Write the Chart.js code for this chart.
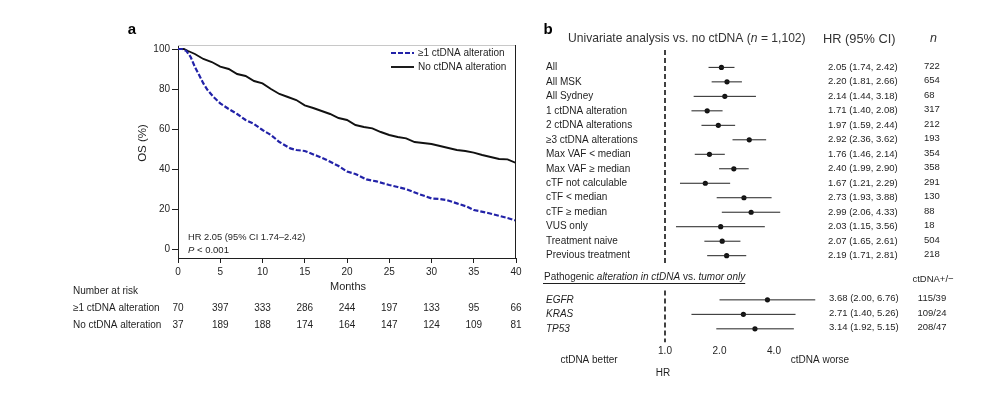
<!DOCTYPE html>
<html>
<head>
<meta charset="utf-8">
<script src="https://cdn.jsdelivr.net/npm/chart.js@4.4.1/dist/chart.umd.min.js"></script>
<style>
    html, body { margin: 0; padding: 0; background: #fff; }
    #wrap { position: relative; width: 1001px; height: 393px; }
    canvas { position: absolute; left: 0; top: 0; }
</style>
</head>
<body>
<div id="wrap">
    <canvas id="kmChart" width="1001" height="393"></canvas>
    <canvas id="forestChart" width="1001" height="393"></canvas>
</div>
<script>
// ---- Panel a: supervivencia global (Kaplan-Meier) ----
const kmMonthsAlt = [0, 0.5, 1.0, 1.5, 2.0, 2.5, 3.0, 3.5, 4.2, 5.0, 6.0, 7.0, 8.0, 9.0, 10.0, 11.0, 12.0, 13.3, 14.0, 15.0, 16.5, 17.6, 19.0, 20.0, 21.0, 22.3, 23.5, 25.0, 26.0, 27.1, 28.5, 30.0, 31.0, 31.8, 33.0, 34.2, 35.0, 36.5, 38.1, 39.0, 40.0];
const kmOsAlt = [100, 100, 99, 96, 91, 87, 82.8, 79.5, 76, 72.8, 70, 67.5, 64.5, 62.5, 59.5, 57, 53.5, 50.3, 49.5, 49, 46.5, 44.5, 41.5, 38.7, 37.5, 34.8, 33.8, 32, 31, 29.8, 27.5, 25.3, 25, 24.5, 22.8, 21.2, 19.5, 18.2, 16.5, 15.5, 14.2];
const kmMonthsNone = [0, 0.7, 1.2, 2.0, 3.0, 4.0, 5.0, 6.0, 7.0, 8.0, 9.0, 10.0, 11.0, 12.0, 13.0, 14.0, 15.0, 16.0, 17.0, 18.0, 19.0, 20.0, 21.0, 22.0, 23.0, 24.0, 25.0, 26.0, 27.0, 28.0, 29.0, 30.0, 31.0, 32.0, 33.0, 34.0, 35.0, 36.0, 37.0, 38.0, 39.0, 40.0];
const kmOsNone = [100, 100, 99, 97.5, 95, 93.5, 91.2, 90, 87.5, 86.5, 84, 82.8, 80, 77.5, 76, 74.5, 71.8, 70.5, 69, 67.5, 65.5, 64.5, 62, 61, 60.3, 58.5, 57, 56, 55.3, 53.5, 53, 52.5, 51.5, 50.5, 49.5, 49, 48.2, 47, 46, 45, 44.8, 43];
const riskMonths = [0, 5, 10, 15, 20, 25, 30, 35, 40];
const riskAlt = [70, 397, 333, 286, 244, 197, 133, 95, 66];
const riskNone = [37, 189, 188, 174, 164, 147, 124, 109, 81];
const osTicks = [0, 20, 40, 60, 80, 100];
const monthTicks = [0, 5, 10, 15, 20, 25, 30, 35, 40];

// ---- Panel b: forest plot ----
const forestLabels = ['All', 'All MSK', 'All Sydney', '1 ctDNA alteration', '2 ctDNA alterations', '≥3 ctDNA alterations', 'Max VAF < median', 'Max VAF ≥ median', 'cTF not calculable', 'cTF < median', 'cTF ≥ median', 'VUS only', 'Treatment naive', 'Previous treatment'];
const forestHr = [2.05, 2.20, 2.14, 1.71, 1.97, 2.92, 1.76, 2.40, 1.67, 2.73, 2.99, 2.03, 2.07, 2.19];
const forestLo = [1.74, 1.81, 1.44, 1.40, 1.59, 2.36, 1.46, 1.99, 1.21, 1.93, 2.06, 1.15, 1.65, 1.71];
const forestHi = [2.42, 2.66, 3.18, 2.08, 2.44, 3.62, 2.14, 2.90, 2.29, 3.88, 4.33, 3.56, 2.61, 2.81];
const forestN = [722, 654, 68, 317, 212, 193, 354, 358, 291, 130, 88, 18, 504, 218];
const geneLabels = ['EGFR', 'KRAS', 'TP53'];
const geneHr = [3.68, 2.71, 3.14];
const geneLo = [2.00, 1.40, 1.92];
const geneHi = [6.76, 5.26, 5.15];
const geneCounts = ['115/39', '109/24', '208/47'];
const hrTicks = [1, 2, 4];

const FONT = '"Liberation Sans", Arial, sans-serif';
const INK = '#1f1f1f';
const BLUE = '#2222a8';
Chart.defaults.font.family = FONT;
Chart.defaults.color = INK;

const toXY = (xs, ys) => xs.map((x, i) => ({ x, y: ys[i] }));

function drawText(ctx, text, x, y, opts = {}) {
    ctx.save();
    ctx.font = `${opts.style || ''} ${opts.weight || ''} ${opts.size || 10}px ${FONT}`;
    ctx.fillStyle = opts.color || INK;
    ctx.textAlign = opts.align || 'left';
    ctx.textBaseline = 'middle';
    ctx.fillText(text, x, y);
    const w = ctx.measureText(text).width;
    ctx.restore();
    return w;
}

// Texto con partes en cursiva: [[texto, italic?], ...]
function drawRich(ctx, parts, x, y, size, color) {
    let cx = x;
    parts.forEach(([t, it]) => {
        cx += drawText(ctx, t, cx, y, { size, color, style: it ? 'italic' : '' });
    });
    return cx - x;
}

const kmDecor = {
    id: 'kmDecor',
    afterDraw(chart) {
        const { ctx, chartArea: a, scales } = chart;
        // marco superior (gris) y derecho
        ctx.save();
        ctx.lineWidth = 1;
        ctx.strokeStyle = '#c8c8c8';
        ctx.beginPath(); ctx.moveTo(a.left, a.top + 0.5); ctx.lineTo(a.right, a.top + 0.5); ctx.stroke();
        ctx.strokeStyle = INK;
        ctx.beginPath(); ctx.moveTo(a.right - 0.5, a.top); ctx.lineTo(a.right - 0.5, a.bottom); ctx.stroke();

        // leyenda
        const ds = chart.data.datasets;
        [53, 67].forEach((ly, i) => {
            ctx.strokeStyle = ds[i].borderColor;
            ctx.lineWidth = ds[i].borderWidth;
            ctx.setLineDash(ds[i].borderDash || []);
            ctx.beginPath(); ctx.moveTo(391, ly); ctx.lineTo(414, ly); ctx.stroke();
            ctx.setLineDash([]);
            drawText(ctx, ds[i].label, 418, ly, { size: 10 });
        });
        ctx.restore();

        drawText(ctx, 'HR 2.05 (95% CI 1.74–2.42)', 188, 237, { size: 9.3 });
        const w = drawText(ctx, 'P', 188, 250, { size: 9.5, style: 'italic' });
        drawText(ctx, ' < 0.001', 188 + w, 250, { size: 9.5 });

        ctx.save();
        ctx.translate(143, 143);
        ctx.rotate(-Math.PI / 2);
        drawText(ctx, 'OS (%)', 0, 0, { size: 11.5, align: 'center' });
        ctx.restore();

        drawText(ctx, 'Months', 348, 287, { size: 11, align: 'center' });

        // tabla de pacientes en riesgo
        drawText(ctx, 'Number at risk', 73, 291, { size: 10 });
        drawText(ctx, ds[0].label, 73, 308, { size: 10 });
        drawText(ctx, ds[1].label, 73, 325, { size: 10 });
        riskMonths.forEach((m, i) => {
            const x = scales.x.getPixelForValue(m);
            drawText(ctx, String(riskAlt[i]), x, 308, { size: 10, align: 'center' });
            drawText(ctx, String(riskNone[i]), x, 325, { size: 10, align: 'center' });
        });

        drawText(ctx, 'a', 132, 30, { size: 15, weight: 'bold', align: 'center', color: '#000' });
    }
};

new Chart(document.getElementById('kmChart'), {
    type: 'line',
    data: {
        datasets: [
            {
                label: '≥1 ctDNA alteration',
                data: toXY(kmMonthsAlt, kmOsAlt),
                borderColor: BLUE,
                borderWidth: 2.2,
                borderDash: [5, 2],
                pointRadius: 0,
                fill: false
            },
            {
                label: 'No ctDNA alteration',
                data: toXY(kmMonthsNone, kmOsNone),
                borderColor: '#111',
                borderWidth: 1.9,
                pointRadius: 0,
                fill: false
            }
        ]
    },
    options: {
        responsive: false,
        animation: false,
        layout: { padding: { left: 148, right: 485, top: 45, bottom: 115 } },
        plugins: { legend: { display: false }, tooltip: { enabled: false } },
        scales: {
            x: {
                type: 'linear', min: 0, max: 40,
                afterBuildTicks: s => { s.ticks = monthTicks.map(v => ({ value: v })); },
                afterFit: s => { s.height = 20; },
                grid: { drawOnChartArea: false, tickLength: 5, color: INK },
                border: { color: INK, width: 1 },
                ticks: { padding: 3, font: { size: 10 }, color: INK, maxRotation: 0 }
            },
            y: {
                type: 'linear', min: -4.5, max: 102,
                afterBuildTicks: s => { s.ticks = osTicks.map(v => ({ value: v })); },
                afterFit: s => { s.width = 30; },
                grid: { drawOnChartArea: false, tickLength: 6, color: INK },
                border: { color: INK, width: 1 },
                ticks: { padding: 2, font: { size: 10 }, color: INK }
            }
        }
    },
    plugins: [kmDecor]
});

// ---- Panel b ----
const forestRows = forestLabels.map((_, i) => i);
const geneRows = geneLabels.map((_, i) => 16.05 + i);

const ciDatasets = [
    ...forestRows.map((r, i) => ({ data: [{ x: forestLo[i], y: r }, { x: forestHi[i], y: r }] })),
    ...geneRows.map((r, i) => ({ data: [{ x: geneLo[i], y: r }, { x: geneHi[i], y: r }] }))
].map(d => ({ ...d, showLine: true, borderColor: '#222', borderWidth: 1, pointRadius: 0 }));

const refLine = [[-1.2, 13.5], [15.4, 19]].map(([a, b]) => ({
    data: [{ x: 1, y: a }, { x: 1, y: b }],
    showLine: true, borderColor: '#111', borderWidth: 1.6, borderDash: [5, 3], pointRadius: 0
}));

const forestDecor = {
    id: 'forestDecor',
    afterDraw(chart) {
        const { ctx, scales } = chart;
        const y = v => scales.y.getPixelForValue(v);
        const fmt = v => v.toFixed(2);

        drawText(ctx, 'b', 548, 30, { size: 15, weight: 'bold', align: 'center', color: '#000' });
        drawRich(ctx, [['Univariate analysis vs. no ctDNA (', false], ['n', true], [' = 1,102)', false]], 568, 39, 12.1, '#333');
        drawText(ctx, 'HR (95% CI)', 823, 39, { size: 12.8, color: '#333' });
        drawText(ctx, 'n', 930, 39, { size: 12.5, style: 'italic', color: '#333' });

        forestRows.forEach((r, i) => {
            drawText(ctx, forestLabels[i], 546, y(r), { size: 10 });
            drawText(ctx, `${fmt(forestHr[i])} (${fmt(forestLo[i])}, ${fmt(forestHi[i])})`, 828, y(r), { size: 9.5 });
            drawText(ctx, String(forestN[i]), 924, y(r) - 1, { size: 9.5 });
        });

        const hw = drawRich(ctx, [['Pathogenic ', false], ['alteration in ctDNA', true], [' vs. ', false], ['tumor only', true]], 544, 277, 10, INK);
        ctx.save();
        ctx.strokeStyle = INK; ctx.lineWidth = 1;
        ctx.beginPath(); ctx.moveTo(543, 283.5); ctx.lineTo(544 + hw, 283.5); ctx.stroke();
        ctx.restore();
        drawText(ctx, 'ctDNA+/−', 933, 279, { size: 9.5, align: 'center' });

        geneRows.forEach((r, i) => {
            drawText(ctx, geneLabels[i], 546, y(r), { size: 10, style: 'italic' });
            drawText(ctx, `${fmt(geneHr[i])} (${fmt(geneLo[i])}, ${fmt(geneHi[i])})`, 829, y(r) - 1, { size: 9.5 });
            drawText(ctx, geneCounts[i], 932, y(r) - 1, { size: 9.5, align: 'center' });
        });

        hrTicks.forEach(v => {
            drawText(ctx, v.toFixed(1), scales.x.getPixelForValue(v), 351, { size: 10, align: 'center' });
        });
        drawText(ctx, 'ctDNA better', 589, 360, { size: 10, align: 'center' });
        drawText(ctx, 'ctDNA worse', 820, 360, { size: 10, align: 'center' });
        drawText(ctx, 'HR', 663, 373, { size: 10, align: 'center' });
    }
};

new Chart(document.getElementById('forestChart'), {
    type: 'scatter',
    data: {
        datasets: [
            ...refLine,
            ...ciDatasets,
            {
                data: [...toXY(forestHr, forestRows), ...toXY(geneHr, geneRows)],
                pointRadius: 2.6,
                pointBackgroundColor: '#111',
                pointBorderWidth: 0
            }
        ]
    },
    options: {
        responsive: false,
        animation: false,
        // escala log2: 1.0 en x=665, ~54.5 px por duplicación
        layout: { padding: { left: 610.5, right: 172.5, top: 50, bottom: 50.4 } },
        plugins: { legend: { display: false }, tooltip: { enabled: false } },
        scales: {
            x: { type: 'logarithmic', min: 0.5, max: 8, display: false },
            y: { type: 'linear', min: -1.2, max: 19, reverse: true, display: false }
        }
    },
    plugins: [forestDecor]
});
</script>
</body>
</html>
